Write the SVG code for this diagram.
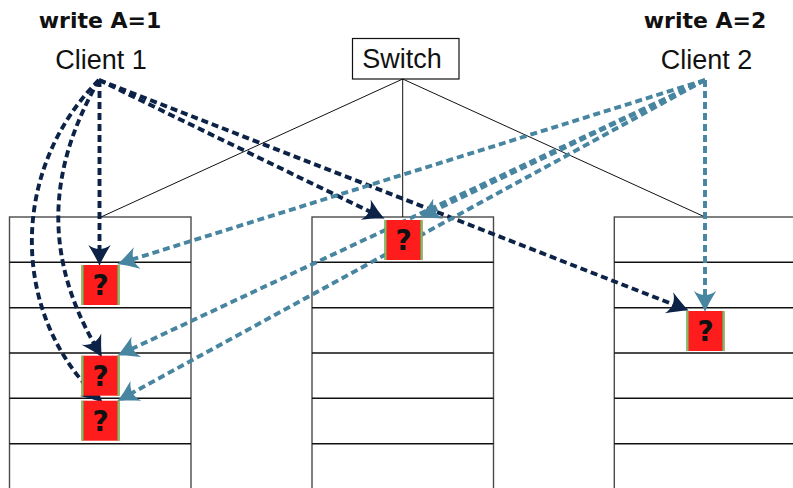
<svg xmlns="http://www.w3.org/2000/svg" width="793" height="488" viewBox="0 0 793 488">
  <style>
    .label { font-family: "Liberation Sans", Arial, sans-serif; font-size: 27px; fill: #111; text-anchor: middle; }
    .op { font-family: "DejaVu Sans", sans-serif; font-weight: bold; font-size: 22px; fill: #111; text-anchor: middle; }
    .q { font-family: "DejaVu Sans", sans-serif; font-weight: bold; font-size: 28px; fill: #111; text-anchor: middle; }
    .col { fill: #fff; stroke: #4a4a4a; stroke-width: 1.4; }
    .row { stroke: #111; stroke-width: 1.5; }
    .tree { stroke: #111; stroke-width: 1; fill: none; }
    .cell { fill: #fe1c1c; }
    .edge { stroke: #66cc66; stroke-width: 2; }
    .w1 { stroke: #0c2347; stroke-width: 3.9; fill: none; stroke-dasharray: 7 4; marker-end: url(#ah1); }
    .w2 { stroke: #4785a0; stroke-width: 3.9; fill: none; stroke-dasharray: 7 4; marker-end: url(#ah2); }
  </style>
  <defs>
    <marker id="ah1" markerUnits="userSpaceOnUse" markerWidth="30" markerHeight="30" viewBox="-10 -10 20 20" refX="0" refY="0" orient="auto" overflow="visible">
      <path d="M8,0 C4,-1.5 -1,-4.5 -6,-7.5 C-2.5,-2.5 -2.5,2.5 -6,7.5 C-1,4.5 4,1.5 8,0 Z" fill="#0c2347"/>
    </marker>
    <marker id="ah2" markerUnits="userSpaceOnUse" markerWidth="30" markerHeight="30" viewBox="-10 -10 20 20" refX="0" refY="0" orient="auto" overflow="visible">
      <path d="M8,0 C4,-1.5 -1,-4.5 -6,-7.5 C-2.5,-2.5 -2.5,2.5 -6,7.5 C-1,4.5 4,1.5 8,0 Z" fill="#4785a0"/>
    </marker>
  </defs>

  <rect x="0" y="0" width="793" height="488" fill="#fff"/>

  <!-- Clients and switch -->
  <g id="client1">
    <text class="op" x="100" y="28">write A=1</text>
    <text class="label" x="101" y="69">Client 1</text>
  </g>
  <g id="client2">
    <text class="op" x="705" y="28">write A=2</text>
    <text class="label" x="706.5" y="69">Client 2</text>
  </g>
  <g id="switch">
    <rect x="352.5" y="38.5" width="106.5" height="40.5" fill="#fff" stroke="#111" stroke-width="1.2"/>
    <text class="label" x="402" y="68">Switch</text>
  </g>

  <!-- Storage columns -->
  <g id="store-left">
    <rect class="col" x="9.5" y="217" width="181.5" height="290"/>
    <path class="row" d="M9.5,262.3 H191 M9.5,307.7 H191 M9.5,353 H191 M9.5,398.3 H191 M9.5,443.7 H191"/>
  </g>
  <g id="store-middle">
    <rect class="col" x="312" y="217" width="181.5" height="290"/>
    <path class="row" d="M312,262.3 H493.5 M312,307.7 H493.5 M312,353 H493.5 M312,398.3 H493.5 M312,443.7 H493.5"/>
  </g>
  <g id="store-right">
    <rect class="col" x="614.3" y="217" width="181.5" height="290"/>
    <path class="row" d="M614.3,262.3 H796 M614.3,307.7 H796 M614.3,353 H796 M614.3,398.3 H796 M614.3,443.7 H796"/>
  </g>

  <!-- Switch to columns, and client writes -->
  <g id="connectors">
    <path class="tree" d="M402.7,79 L101,217 M402.7,79 L402.7,217 M402.7,79 L705,217"/>

    <path class="w1" d="M99.5,80 V254"/>
    <path class="w1" d="M99,80 C45.5,172.7 45,259 96,347"/>
    <path class="w1" d="M99,80 C10.6,168.4 10,310 94.3,394.3"/>
    <path class="w1" d="M99,80 L373.8,213.5"/>
    <path class="w1" d="M99,80 L677.5,306.1"/>

    <path class="w2" d="M705,80 V300"/>
    <path class="w2" d="M705,80 L430.2,212.5"/>
    <path class="w2" d="M705,80 L128.6,260.6"/>
    <path class="w2" d="M705,80 L128.2,350.6"/>
    <path class="w2" d="M705,80 L128,395.2"/>
  </g>

  <!-- Unknown cell values -->
  <g id="cell-left-1">
    <rect class="cell" x="81.5" y="265" width="38" height="40"/>
    <path class="edge" d="M82.5,265 V305 M118.5,265 V305"/>
    <text class="q" x="100.5" y="295">?</text>
  </g>
  <g id="cell-left-2">
    <rect class="cell" x="81.5" y="355.7" width="38" height="40"/>
    <path class="edge" d="M82.5,355.7 V395.7 M118.5,355.7 V395.7"/>
    <text class="q" x="100.5" y="385.7">?</text>
  </g>
  <g id="cell-left-3">
    <rect class="cell" x="81.5" y="400.7" width="38" height="40"/>
    <path class="edge" d="M82.5,400.7 V440.7 M118.5,400.7 V440.7"/>
    <text class="q" x="100.5" y="430.7">?</text>
  </g>
  <g id="cell-middle">
    <rect class="cell" x="384.5" y="220" width="38" height="40"/>
    <path class="edge" d="M385.5,220 V260 M421.5,220 V260"/>
    <text class="q" x="403.5" y="250">?</text>
  </g>
  <g id="cell-right">
    <rect class="cell" x="686.5" y="311" width="38" height="40"/>
    <path class="edge" d="M687.5,311 V351 M723.5,311 V351"/>
    <text class="q" x="705.5" y="341">?</text>
  </g>
</svg>
